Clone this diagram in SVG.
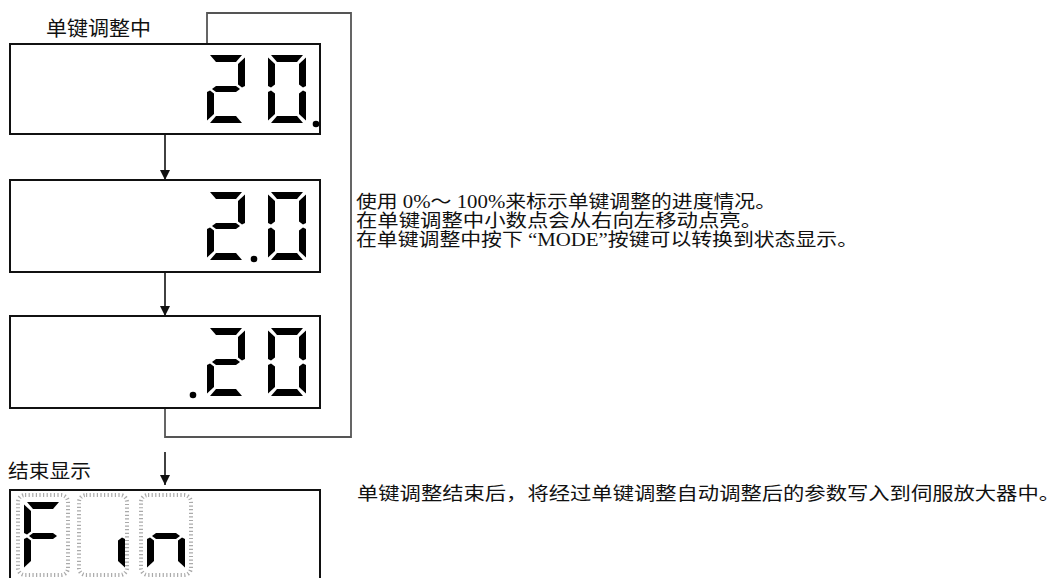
<svg xmlns="http://www.w3.org/2000/svg" xmlns:xlink="http://www.w3.org/1999/xlink" width="1050" height="578" viewBox="0 0 1050 578">
<style>
.box{fill:#fff;stroke:#111;stroke-width:2}
.seg{fill:#000}
.cell{fill:none;stroke:#aaa;stroke-width:4;stroke-dasharray:1.2 2.4}
.txt{font-family:"Liberation Serif","Noto Sans CJK SC",serif;fill:#111}
.lbl{font-family:"Noto Sans CJK SC","Liberation Sans",sans-serif;fill:#111}
.ln{fill:none;stroke:#111;stroke-width:1.6}
.loop{fill:none;stroke:#555;stroke-width:1.8}
</style>
<defs>
<marker id="ah" markerUnits="userSpaceOnUse" markerWidth="10" markerHeight="10" refX="10" refY="5" orient="auto">
<path d="M0,0 L10,5 L0,10 z" fill="#111"/>
</marker>
<polygon id="sa" class="seg" points="3,0 35,0 29,7 9,7"/>
<polygon id="sb" class="seg" points="38,2.5 38,31 35,32.5 31,29.5 31,9"/>
<polygon id="sf" class="seg" points="0,2.5 7,9 7,29.5 3,32.5 0,31"/>
<polygon id="sg" class="seg" points="5,34 9,31 29,31 33,34 29,37 9,37"/>
<polygon id="se" class="seg" points="0,37 3,35.5 7,38.5 7,59 0,65.5"/>
<polygon id="sc" class="seg" points="38,37 38,65.5 31,59 31,38.5 35,35.5"/>
<polygon id="sd" class="seg" points="9,61 29,61 35,68 3,68"/>
<g id="d2"><use xlink:href="#sa"/><use xlink:href="#sb"/><use xlink:href="#sg"/><use xlink:href="#se"/><use xlink:href="#sd"/></g>
<g id="d0"><use xlink:href="#sa"/><use xlink:href="#sb"/><use xlink:href="#sc"/><use xlink:href="#sd"/><use xlink:href="#se"/><use xlink:href="#sf"/></g>
</defs>
<rect width="1050" height="578" fill="#fff"/>

<g id="connectors">
<polyline class="loop" points="165,408 165,437 351,437 351,13 207,13 207,44"/>
<line class="ln" x1="165" y1="134" x2="165" y2="180" marker-end="url(#ah)"/>
<line class="ln" x1="165" y1="272" x2="165" y2="316" marker-end="url(#ah)"/>
<line class="ln" x1="165" y1="452" x2="165" y2="485" marker-end="url(#ah)"/>
</g>

<g id="label-running">
<text class="lbl" x="46" y="36" font-size="20" textLength="105" lengthAdjust="spacingAndGlyphs">单键调整中</text>
</g>

<g id="display-1">
<rect class="box" x="10" y="44" width="310" height="90"/>
<use xlink:href="#d2" x="207" y="55"/>
<use xlink:href="#d0" x="268" y="55"/>
<circle cx="316" cy="124" r="3.3"/>
</g>

<g id="display-2">
<rect class="box" x="10" y="180" width="310" height="92"/>
<use xlink:href="#d2" x="207" y="192"/>
<use xlink:href="#d0" x="268" y="192"/>
<circle cx="254" cy="259" r="3.3"/>
</g>

<g id="display-3">
<rect class="box" x="10" y="316" width="310" height="92"/>
<use xlink:href="#d2" x="207" y="328"/>
<use xlink:href="#d0" x="268" y="328"/>
<circle cx="193" cy="395" r="3.3"/>
</g>

<g id="note-running">
<text class="txt" x="356" y="208" font-size="18" textLength="420" lengthAdjust="spacingAndGlyphs">使用 0%～ 100%来标示单键调整的进度情况。</text>
<text class="txt" x="356" y="227" font-size="18" textLength="406" lengthAdjust="spacingAndGlyphs">在单键调整中小数点会从右向左移动点亮。</text>
<text class="txt" x="356" y="246" font-size="18" textLength="502" lengthAdjust="spacingAndGlyphs">在单键调整中按下 “MODE”按键可以转换到状态显示。</text>
</g>

<g id="label-finish">
<text class="lbl" x="8" y="478" font-size="19" textLength="83" lengthAdjust="spacingAndGlyphs">结束显示</text>
</g>

<g id="display-fin">
<rect class="box" x="10" y="490" width="310" height="100"/>
<rect class="cell" x="18" y="495" width="50" height="80" rx="7"/>
<rect class="cell" x="79" y="495" width="48" height="80" rx="7"/>
<rect class="cell" x="141" y="495" width="50" height="80" rx="7"/>
<g transform="translate(24,502)"><use xlink:href="#sa"/><use xlink:href="#sf"/><use xlink:href="#sg"/><use xlink:href="#se"/></g>
<g transform="translate(87,502)"><use xlink:href="#sc"/></g>
<g transform="translate(147,502)"><use xlink:href="#se"/><use xlink:href="#sg"/><use xlink:href="#sc"/></g>
</g>

<g id="note-finish">
<text class="txt" x="357" y="500" font-size="18" textLength="703" lengthAdjust="spacingAndGlyphs">单键调整结束后，将经过单键调整自动调整后的参数写入到伺服放大器中。</text>
</g>
</svg>
